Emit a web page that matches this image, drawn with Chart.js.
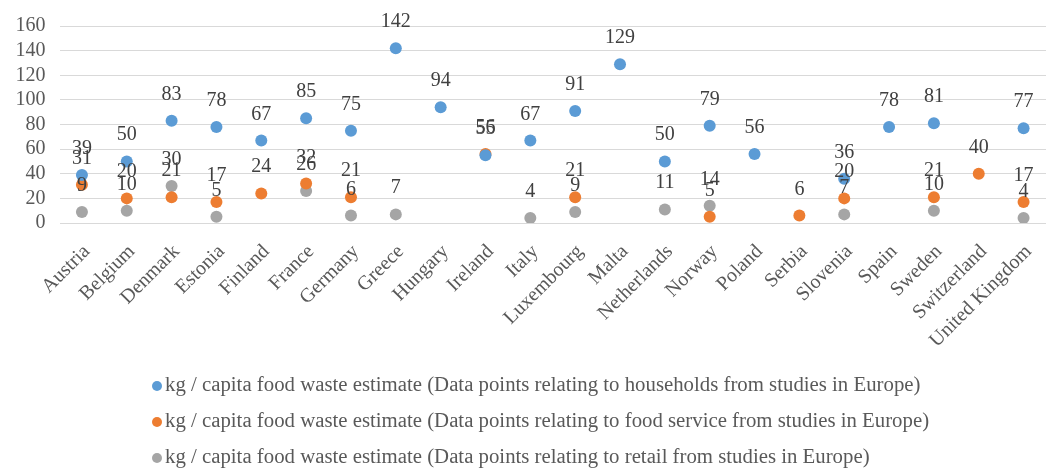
<!DOCTYPE html>
<html>
<head>
<meta charset="utf-8">
<script src="https://cdn.jsdelivr.net/npm/chart.js@4.4.1/dist/chart.umd.min.js"></script>
<style>
  html, body { margin: 0; padding: 0; background: #fff; overflow: hidden; }
  #wrap { position: relative; width: 1052px; height: 472px; }
  #legend { position: absolute; left: 152px; top: 366px; font-family: "Liberation Serif", serif; font-size: 20.8px; color: #595959; }
  .item { height: 36px; line-height: 36px; white-space: nowrap; }
  .dot { display: inline-block; width: 10px; height: 10px; border-radius: 50%; margin-right: 3px; vertical-align: middle; }
</style>
</head>
<body>
<div id="wrap">
  <canvas id="chart" width="1052" height="472"></canvas>
  <div id="legend"></div>
</div>
<script>
// Countries along the x axis
const countries = ['Austria', 'Belgium', 'Denmark', 'Estonia', 'Finland', 'France', 'Germany', 'Greece',
  'Hungary', 'Ireland', 'Italy', 'Luxembourg', 'Malta', 'Netherlands', 'Norway', 'Poland', 'Serbia',
  'Slovenia', 'Spain', 'Sweden', 'Switzerland', 'United Kingdom'];

// kg / capita food waste estimates per sector (null = no study)
const households  = [39, 50, 83, 78, 67, 85, 75, 142, 94, 55, 67, 91, 129, 50, 79, 56, null, 36, 78, 81, null, 77];
const foodService = [31, 20, 21, 17, 24, 32, 21, null, null, 56, null, 21, null, null, 5, null, 6, 20, null, 21, 40, 17];
const retail      = [9, 10, 30, 5, null, 26, 6, 7, null, null, 4, 9, null, 11, 14, null, null, 7, null, 10, null, 4];

const seriesNames = [
  'kg / capita food waste estimate (Data points relating to households from studies in Europe)',
  'kg / capita food waste estimate (Data points relating to food service from studies in Europe)',
  'kg / capita food waste estimate (Data points relating to retail from studies in Europe)'
];

const yTicks = { min: 0, max: 160, step: 20 };

const serif = '"Liberation Serif", "Times New Roman", serif';
const colors = ['#5B9BD5', '#ED7D31', '#A5A5A5'];

// Value labels printed above each marker
const valueLabels = {
  id: 'valueLabels',
  afterDatasetsDraw(chart) {
    const ctx = chart.ctx;
    ctx.save();
    ctx.font = '20px ' + serif;
    ctx.fillStyle = '#404040';
    ctx.textAlign = 'center';
    ctx.textBaseline = 'alphabetic';
    chart.data.datasets.forEach((ds, i) => {
      const meta = chart.getDatasetMeta(i);
      meta.data.forEach((pt, j) => {
        const v = ds.data[j];
        if (v === null || v === undefined) return;
        ctx.fillText(String(v), pt.x, pt.y - 21);
      });
    });
    ctx.restore();
  }
};

const makeSet = (label, data, color) => ({
  label, data,
  showLine: false,
  pointRadius: 6,
  pointHoverRadius: 6,
  pointBackgroundColor: color,
  pointBorderColor: color,
  pointBorderWidth: 0,
  backgroundColor: color,
  borderColor: color
});

const chart = new Chart(document.getElementById('chart'), {
  type: 'line',
  data: {
    labels: countries,
    datasets: [
      makeSet(seriesNames[0], households, colors[0]),
      makeSet(seriesNames[1], foodService, colors[1]),
      makeSet(seriesNames[2], retail, colors[2])
    ]
  },
  options: {
    responsive: false,
    animation: false,
    events: [],
    layout: { padding: { top: 24, right: 0, bottom: 0, left: 0 } },
    plugins: { legend: { display: false }, tooltip: { enabled: false } },
    scales: {
      x: {
        type: 'category',
        offset: true,
        grid: { display: false },
        border: { display: false },
        ticks: {
          autoSkip: false, minRotation: 45, maxRotation: 45,
          color: '#595959', font: { family: serif, size: 20 }, padding: 9, labelOffset: 5
        },
        afterFit(scale) { scale.height = 249; }
      },
      y: {
        min: yTicks.min, max: yTicks.max,
        grid: { color: '#d9d9d9', lineWidth: 1, drawTicks: false },
        border: { display: false },
        ticks: { stepSize: yTicks.step, autoSkip: false, color: '#595959', font: { family: serif, size: 20 }, padding: 14 },
        afterFit(scale) { scale.width = 59.5; }
      }
    }
  },
  plugins: [valueLabels]
});

// Legend listing the three series, one per row
const legend = document.getElementById('legend');
chart.data.datasets.forEach(ds => {
  const row = document.createElement('div');
  row.className = 'item';
  const dot = document.createElement('span');
  dot.className = 'dot';
  dot.style.background = ds.pointBackgroundColor;
  row.appendChild(dot);
  row.appendChild(document.createTextNode(ds.label));
  legend.appendChild(row);
});
</script>
</body>
</html>
